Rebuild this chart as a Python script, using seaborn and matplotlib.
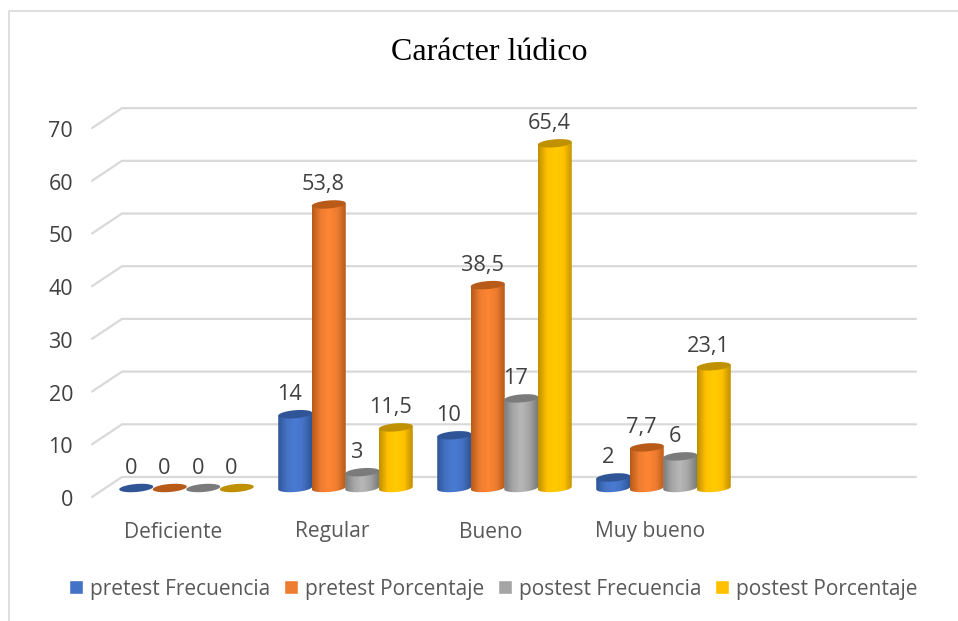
import numpy as np
import pandas as pd
import matplotlib
matplotlib.use('Agg')
import matplotlib.pyplot as plt
import seaborn as sns
from matplotlib.colors import LinearSegmentedColormap
from matplotlib.patches import Polygon

# Datos
categorias = ['Deficiente', 'Regular', 'Bueno', 'Muy bueno']
series = ['pretest Frecuencia', 'pretest Porcentaje', 'postest Frecuencia', 'postest Porcentaje']
pretest_frecuencia = [0, 14, 10, 2]
pretest_porcentaje = [0, 53.8, 38.5, 7.7]
postest_frecuencia = [0, 3, 17, 6]
postest_porcentaje = [0, 11.5, 65.4, 23.1]
ticks = [0, 10, 20, 30, 40, 50, 60, 70]
colores = ['#4472C4', '#ED7D31', '#A5A5A5', '#FFC000']
bordes = ['#2F5597', '#B85A18', '#7B7B7B', '#BF9000']
brillos = ['#4A7BD4', '#FF8533', '#B8B8B8', '#FFCC00']

W, H = 958, 621
X0, GRUPO = 186.5, 159.0   # centro del primer grupo y separacion, en pixeles
Y0, ESCALA = 488.0, 5.27   # base de las barras y pixeles por unidad
RADIO, ALTO_TAPA, INCLINA = 17.0, 4.0, 0.08


def px_x(p):
    return (p - X0) / GRUPO


def px_y(p):
    return (Y0 - p) / ESCALA


def elipse(cx, cy):
    # contorno de la tapa del cilindro, un poco inclinada
    t = np.linspace(0, 2 * np.pi, 80)
    xs = cx + RADIO * np.cos(t) / GRUPO
    ys = cy + (ALTO_TAPA * np.sin(t) + INCLINA * RADIO * np.cos(t)) / ESCALA
    return np.column_stack([xs, ys])


def cuerpo(cx, alto):
    # lado izquierdo, arco inferior y lado derecho
    t = np.linspace(np.pi, 2 * np.pi, 40)
    xs = cx + RADIO * np.cos(t) / GRUPO
    ys = (ALTO_TAPA * np.sin(t) + INCLINA * RADIO * np.cos(t)) / ESCALA
    pie = np.column_stack([xs, ys])
    der = [cx + RADIO / GRUPO, alto + INCLINA * RADIO / ESCALA]
    izq = [cx - RADIO / GRUPO, alto - INCLINA * RADIO / ESCALA]
    return np.vstack([[izq], pie, [der]])


df = pd.DataFrame({
    'categoria': categorias,
    series[0]: pretest_frecuencia,
    series[1]: pretest_porcentaje,
    series[2]: postest_frecuencia,
    series[3]: postest_porcentaje,
}).melt(id_vars='categoria', var_name='serie', value_name='valor')

sns.set_theme(style='white')
plt.rcParams['font.family'] = ['Open Sans', 'DejaVu Sans']

fig = plt.figure(figsize=(W / 100, H / 100), dpi=100)
ax = fig.add_axes([0, 0, 1, 1])
sns.barplot(data=df, x='categoria', y='valor', hue='serie', hue_order=series,
            order=categorias, palette=colores, width=0.843, gap=0, saturation=1, ax=ax)
xlim = (px_x(0), px_x(W))
ylim = (px_y(H), px_y(0))

# Paredes: lineas de la rejilla y diagonales del eje
for t in ticks:
    atras = t + (Y0 - 477) / ESCALA
    frente = t + (Y0 - 497) / ESCALA
    ax.plot([px_x(92), px_x(122), px_x(916)], [frente, atras, atras],
            color='#D9D9D9', lw=1.6, zorder=1, solid_joinstyle='miter')
    ax.text(px_x(73), frente - 3.5 / ESCALA, str(t), ha='right', va='center',
            fontsize=15.5, color='#404040')

# Cilindros sobre las barras de seaborn
z = 3
for g in range(len(categorias)):
    for s, cont in enumerate(ax.containers):
        bar = cont[g]
        alto = bar.get_height()
        cx = bar.get_x() + bar.get_width() / 2
        bar.set_alpha(0)
        if alto > 0:
            cmap = LinearSegmentedColormap.from_list(
                'c', [bordes[s], colores[s], brillos[s], colores[s], bordes[s]])
            im = ax.imshow(np.linspace(0, 1, 64)[None, :], cmap=cmap, aspect='auto',
                           extent=[cx - 17 / GRUPO, cx + 17 / GRUPO, -6 / ESCALA, alto + 4 / ESCALA],
                           interpolation='bilinear', zorder=z)
            im.set_clip_path(Polygon(cuerpo(cx, alto), transform=ax.transData))
        ax.add_patch(Polygon(elipse(cx, alto), closed=True, facecolor=bordes[s],
                             edgecolor='none', zorder=z + 1))
        etiqueta = f'{alto:g}'.replace('.', ',')
        ax.text(cx - 5.5 / GRUPO, alto + 19.5 / ESCALA, etiqueta, ha='center', va='center',
                fontsize=15.7, color='#404040', zorder=50)
        z += 2

for i, cat in enumerate(categorias):
    ax.text(i - 13.5 / GRUPO, px_y(532), cat, ha='center', va='center',
            fontsize=15.1, color='#595959')

ax.set_xlim(xlim)
ax.set_ylim(ylim)
ax.set_xlabel('')
ax.set_ylabel('')
ax.set_xticks([])
ax.set_yticks([])
for spine in ax.spines.values():
    spine.set_visible(False)

ax.text(px_x(489), px_y(52), 'Carácter lúdico', ha='center', va='center', fontsize=23,
        family='Liberation Serif', color='#000000')

# Marco del grafico: solo arriba y a la izquierda
fig.add_artist(plt.Line2D([8.5 / W, 8.5 / W, 1],
                          [0, 1 - 10.5 / H, 1 - 10.5 / H], color='#D9D9D9', lw=1.2))

handles, labels = ax.get_legend_handles_labels()
ax.legend(handles, labels, loc='center', bbox_to_anchor=(493.5 / W, 1 - 589 / H),
          bbox_transform=fig.transFigure, ncol=4, frameon=False, fontsize=15,
          labelcolor='#595959', handlelength=0.66, handleheight=0.66,
          handletextpad=0.35, columnspacing=0.66, borderpad=0)

fig.savefig('out.png', dpi=100)
plt.close(fig)
